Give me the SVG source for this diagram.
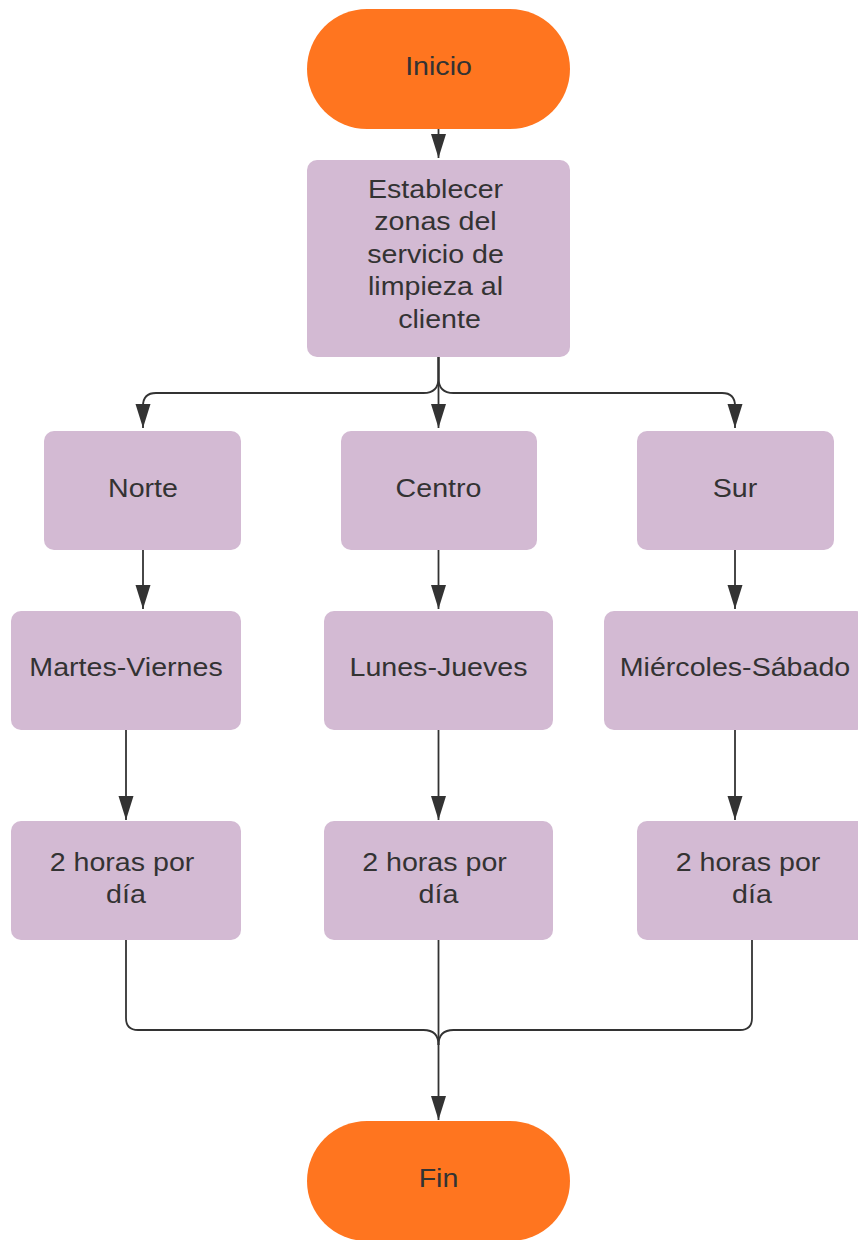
<svg xmlns="http://www.w3.org/2000/svg" width="858" height="1240" viewBox="0 0 858 1240">
  <defs>
    <style>
      .term { fill: #FF751F; }
      .proc { fill: #D3BAD3; }
      .lbl { font-family: "Liberation Sans", Arial, sans-serif; font-size: 26px; fill: #333333; text-anchor: middle; }
      .wire { fill: none; stroke: #333333; stroke-width: 1.8; }
    </style>
    <marker id="arrow" markerUnits="userSpaceOnUse" markerWidth="24" markerHeight="16" viewBox="0 0 24 16" refX="24" refY="8" orient="auto">
      <path d="M0,0.5 L24,8 L0,15.5 z" fill="#333333"/>
    </marker>
  </defs>
  <rect width="858" height="1240" fill="#ffffff"/>

  <g id="connectors">
    <!-- start to zones -->
    <path class="wire" d="M438.5,129 V158" marker-end="url(#arrow)"/>
    <!-- zones fan-out -->
    <path class="wire" d="M438.5,357 V428" marker-end="url(#arrow)"/>
    <path class="wire" d="M438.5,357 V378 Q438.5,393 423.5,393 H156 Q143,393 143,406 V428" marker-end="url(#arrow)"/>
    <path class="wire" d="M438.5,357 V378 Q438.5,393 453.5,393 H722 Q735,393 735,406 V428" marker-end="url(#arrow)"/>
    <!-- zone to days -->
    <path class="wire" d="M143,550 V609" marker-end="url(#arrow)"/>
    <path class="wire" d="M438.5,550 V609" marker-end="url(#arrow)"/>
    <path class="wire" d="M735,550 V609" marker-end="url(#arrow)"/>
    <!-- days to hours -->
    <path class="wire" d="M126,730 V820" marker-end="url(#arrow)"/>
    <path class="wire" d="M438.5,730 V820" marker-end="url(#arrow)"/>
    <path class="wire" d="M735,730 V820" marker-end="url(#arrow)"/>
    <!-- merge into end -->
    <path class="wire" d="M438.5,940 V1120" marker-end="url(#arrow)"/>
    <path class="wire" d="M126,940 V1018 Q126,1030 138,1030 H423.5 Q438.5,1030 438.5,1045"/>
    <path class="wire" d="M752,940 V1018 Q752,1030 740,1030 H453.5 Q438.5,1030 438.5,1045"/>
  </g>

  <g id="inicio">
    <rect class="term" x="307" y="9" width="263" height="120" rx="60"/>
    <text class="lbl" transform="translate(438.5,75) scale(1.1,1)">Inicio</text>
  </g>

  <g id="establecer">
    <rect class="proc" x="307" y="160" width="263" height="197" rx="10"/>
    <text class="lbl" transform="translate(439.5,198) scale(1.1,1)">
      <tspan x="0" y="0">Establecer</tspan>
      <tspan x="0" y="32.5">zonas del</tspan>
      <tspan x="0" y="65">servicio de</tspan>
      <tspan x="0" y="97.5">limpieza al</tspan>
      <tspan x="0" y="130">cliente</tspan>
    </text>
  </g>

  <g id="norte">
    <rect class="proc" x="44" y="431" width="197" height="119" rx="10"/>
    <text class="lbl" transform="translate(143,497) scale(1.1,1)">Norte</text>
  </g>
  <g id="centro">
    <rect class="proc" x="341" y="431" width="196" height="119" rx="10"/>
    <text class="lbl" transform="translate(438.5,497) scale(1.1,1)">Centro</text>
  </g>
  <g id="sur">
    <rect class="proc" x="637" y="431" width="197" height="119" rx="10"/>
    <text class="lbl" transform="translate(735,497) scale(1.1,1)">Sur</text>
  </g>

  <g id="martes-viernes">
    <rect class="proc" x="11" y="611" width="230" height="119" rx="10"/>
    <text class="lbl" transform="translate(126,676) scale(1.1,1)">Martes-Viernes</text>
  </g>
  <g id="lunes-jueves">
    <rect class="proc" x="324" y="611" width="229" height="119" rx="10"/>
    <text class="lbl" transform="translate(438.5,676) scale(1.1,1)">Lunes-Jueves</text>
  </g>
  <g id="miercoles-sabado">
    <rect class="proc" x="604" y="611" width="262" height="119" rx="10"/>
    <text class="lbl" transform="translate(735,676) scale(1.1,1)">Miércoles-Sábado</text>
  </g>

  <g id="horas-norte">
    <rect class="proc" x="11" y="821" width="230" height="119" rx="10"/>
    <text class="lbl" transform="translate(126,871) scale(1.1,1)">
      <tspan x="0" y="0">2 horas por</tspan>
      <tspan x="0" y="32">día</tspan>
    </text>
  </g>
  <g id="horas-centro">
    <rect class="proc" x="324" y="821" width="229" height="119" rx="10"/>
    <text class="lbl" transform="translate(438.5,871) scale(1.1,1)">
      <tspan x="0" y="0">2 horas por</tspan>
      <tspan x="0" y="32">día</tspan>
    </text>
  </g>
  <g id="horas-sur">
    <rect class="proc" x="637" y="821" width="230" height="119" rx="10"/>
    <text class="lbl" transform="translate(752,871) scale(1.1,1)">
      <tspan x="0" y="0">2 horas por</tspan>
      <tspan x="0" y="32">día</tspan>
    </text>
  </g>

  <g id="fin">
    <rect class="term" x="307" y="1121" width="263" height="120" rx="60"/>
    <text class="lbl" transform="translate(438.5,1187) scale(1.1,1)">Fin</text>
  </g>
</svg>
